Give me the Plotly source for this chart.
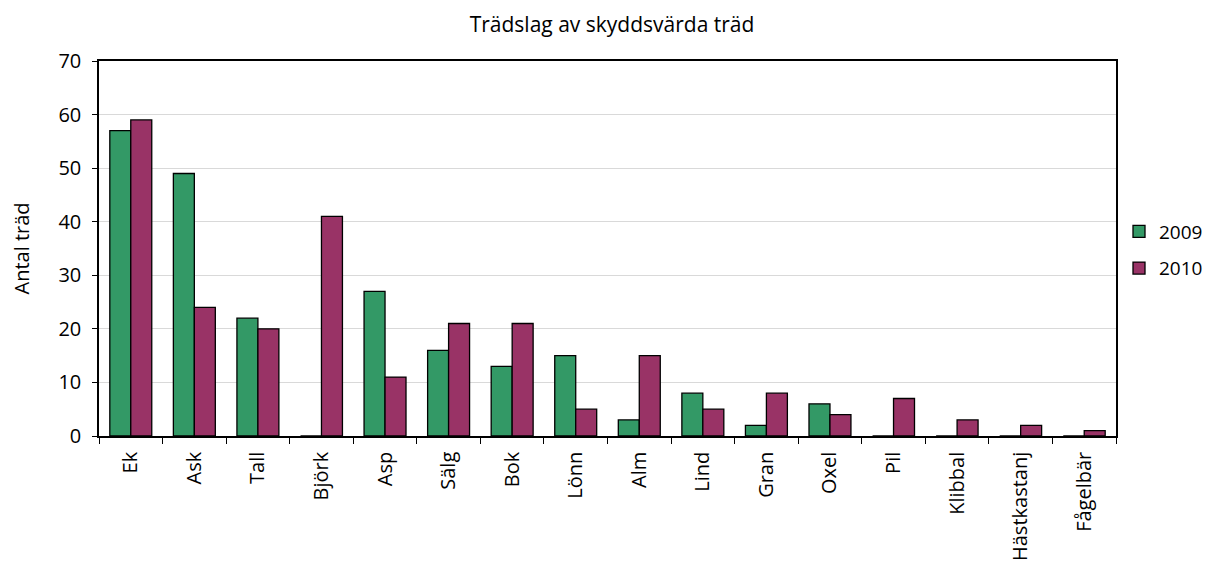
import plotly.graph_objects as go

categories = ["Ek", "Ask", "Tall", "Björk", "Asp", "Sälg", "Bok", "Lönn", "Alm", "Lind",
              "Gran", "Oxel", "Pil", "Klibbal", "Hästkastanj", "Fågelbär"]
values_2009 = [57, 49, 22, 0, 27, 16, 13, 15, 3, 8, 2, 6, 0, 0, 0, 0]
values_2010 = [59, 24, 20, 41, 11, 21, 21, 5, 15, 5, 8, 4, 7, 3, 2, 1]
y_ticks = [0, 10, 20, 30, 40, 50, 60, 70]

FONT = "Open Sans, Liberation Sans, sans-serif"

fig = go.Figure()
fig.add_trace(go.Bar(name="2009", x=categories, y=values_2009, legendgroup="g2009",
                     marker=dict(color="#339966", line=dict(color="black", width=1.3))))
fig.add_trace(go.Bar(name="2010", x=categories, y=values_2010, legendgroup="g2010",
                     marker=dict(color="#993366", line=dict(color="black", width=1.3))))

fig.update_layout(
    width=1213, height=571,
    margin=dict(l=91, r=105, t=53, b=143),
    paper_bgcolor="white", plot_bgcolor="white",
    barmode="group", bargap=0.34, bargroupgap=0,
    font=dict(family=FONT, size=20, color="black"),
    title=dict(text="Trädslag av skyddsvärda träd", xref="container", x=604 / 1213,
               xanchor="center", yref="container", y=1 - 17 / 571, yanchor="middle",
               font=dict(family=FONT, size=21, color="black")),
    legend=dict(xref="container", x=1111 / 1213, y=0.496, xanchor="left", yanchor="middle",
                font=dict(family=FONT, size=19), itemwidth=30, tracegroupgap=9,
                bgcolor="rgba(0,0,0,0)"),
    showlegend=True,
    annotations=[dict(text="Antal träd", xref="paper", yref="paper",
                      x=(13 - 91) / 1017, y=0.5, xanchor="center", yanchor="middle",
                      textangle=-90, showarrow=False,
                      font=dict(family=FONT, size=20, color="black"))],
)
fig.update_xaxes(
    tickangle=-90, showline=True, linecolor="black", linewidth=1.5, mirror=True,
    ticks="outside", tickson="boundaries", ticklen=6, tickcolor="black",
    showgrid=False, tickfont=dict(family=FONT, size=20), automargin=False,
    ticklabelstandoff=6,
)
fig.update_yaxes(
    range=[0, 70], tickvals=y_ticks, showline=True, linecolor="black", linewidth=1.5,
    mirror=True, ticks="outside", ticklen=5, tickcolor="black",
    showgrid=True, gridcolor="#d9d9d9", gridwidth=1, zeroline=False,
    tickfont=dict(family=FONT, size=20), automargin=False, ticklabelstandoff=7,
)

fig.write_html("out.html")
